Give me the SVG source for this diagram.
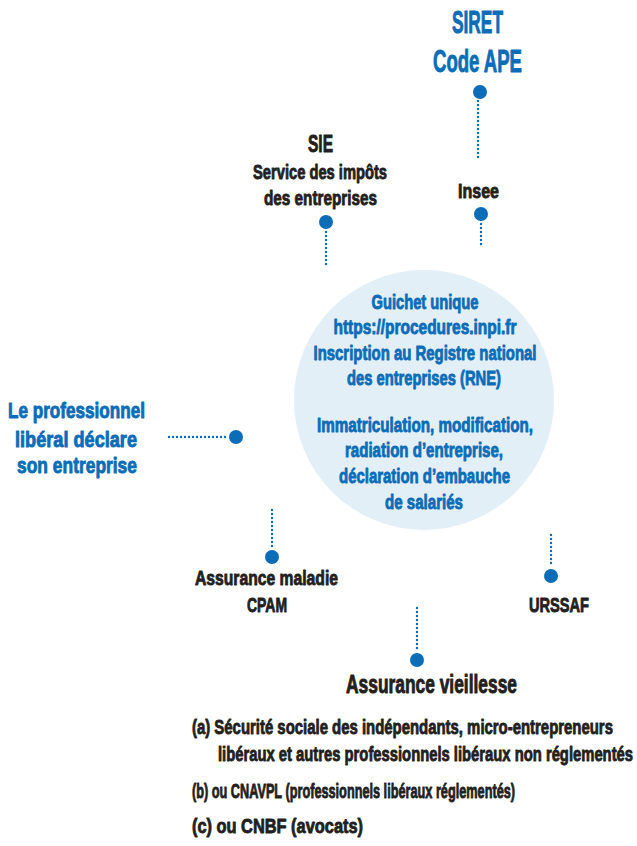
<svg xmlns="http://www.w3.org/2000/svg" width="637" height="846" viewBox="0 0 637 846">
<style>
text{font-family:"Liberation Sans",Arial,sans-serif;font-weight:bold;text-anchor:middle;stroke-width:0.9;stroke-linejoin:round}
.b{fill:#0b6db7;stroke:#0b6db7}
.k{fill:#231f20;stroke:#231f20}
.s{text-anchor:start}
.dot{fill:#0b6db7}
.dl{stroke:#0b6db7;stroke-width:2.4;stroke-linecap:round;stroke-dasharray:0 4;fill:none}
</style>
<rect width="637" height="846" fill="#ffffff"/>
<g id="center">
<circle cx="424" cy="400" r="130" fill="#e3eff7"/>
<text class="b" font-size="21" transform="translate(425,309) scale(0.62,1)" textLength="172.6" lengthAdjust="spacingAndGlyphs">Guichet unique</text>
<text class="b" font-size="21" transform="translate(425,334) scale(0.62,1)" textLength="295.2" lengthAdjust="spacingAndGlyphs">https://procedures.inpi.fr</text>
<text class="b" font-size="21" transform="translate(425,360) scale(0.62,1)" textLength="359.7" lengthAdjust="spacingAndGlyphs">Inscription au Registre national</text>
<text class="b" font-size="21" transform="translate(424,385) scale(0.62,1)" textLength="248.4" lengthAdjust="spacingAndGlyphs">des entreprises (RNE)</text>
<text class="b" font-size="21" transform="translate(425,432) scale(0.62,1)" textLength="348.4" lengthAdjust="spacingAndGlyphs">Immatriculation, modification,</text>
<text class="b" font-size="21" transform="translate(424,457) scale(0.62,1)" textLength="254.8" lengthAdjust="spacingAndGlyphs">radiation d’entreprise,</text>
<text class="b" font-size="21" transform="translate(424.5,483) scale(0.62,1)" textLength="275.8" lengthAdjust="spacingAndGlyphs">déclaration d’embauche</text>
<text class="b" font-size="21" transform="translate(424,509) scale(0.62,1)" textLength="125.8" lengthAdjust="spacingAndGlyphs">de salariés</text>
</g>
<g id="connectors">
<line class="dl" x1="478" y1="101" x2="478" y2="161"/>
<line class="dl" x1="481" y1="224" x2="481" y2="246"/>
<line class="dl" x1="326" y1="232" x2="326" y2="268"/>
<line class="dl" x1="169" y1="437" x2="227" y2="437"/>
<line class="dl" x1="272" y1="510" x2="272" y2="548"/>
<line class="dl" x1="551" y1="535" x2="551" y2="566"/>
<line class="dl" x1="417" y1="608" x2="417" y2="651"/>
</g>
<g id="siret">
<text class="b" font-size="31" transform="translate(477.5,33) scale(0.62,1)" textLength="82.3" lengthAdjust="spacingAndGlyphs">SIRET</text>
<text class="b" font-size="31" transform="translate(477.5,72) scale(0.62,1)" textLength="143.5" lengthAdjust="spacingAndGlyphs">Code APE</text>
<circle class="dot" cx="480" cy="92" r="7"/>
</g>
<g id="insee">
<text class="k" font-size="21" transform="translate(478.5,198) scale(0.62,1)" textLength="66.1" lengthAdjust="spacingAndGlyphs">Insee</text>
<circle class="dot" cx="481" cy="214" r="7"/>
</g>
<g id="sie">
<text class="k" font-size="24" transform="translate(320.5,152) scale(0.62,1)" textLength="40.3" lengthAdjust="spacingAndGlyphs">SIE</text>
<text class="k" font-size="21" transform="translate(320,179) scale(0.62,1)" textLength="216.1" lengthAdjust="spacingAndGlyphs">Service des impôts</text>
<text class="k" font-size="21" transform="translate(320.5,205) scale(0.62,1)" textLength="182.3" lengthAdjust="spacingAndGlyphs">des entreprises</text>
<circle class="dot" cx="326" cy="222" r="7"/>
</g>
<g id="professionnel">
<text class="b" font-size="22" transform="translate(76.5,418) scale(0.62,1)" textLength="221" lengthAdjust="spacingAndGlyphs">Le professionnel</text>
<text class="b" font-size="22" transform="translate(76,447) scale(0.62,1)" textLength="196.8" lengthAdjust="spacingAndGlyphs">libéral déclare</text>
<text class="b" font-size="22" transform="translate(77,473) scale(0.62,1)" textLength="193.5" lengthAdjust="spacingAndGlyphs">son entreprise</text>
<circle class="dot" cx="236" cy="437" r="7"/>
</g>
<g id="cpam">
<circle class="dot" cx="272" cy="557" r="7"/>
<text class="k" font-size="21" transform="translate(266.5,585) scale(0.62,1)" textLength="230.6" lengthAdjust="spacingAndGlyphs">Assurance maladie</text>
<text class="k" font-size="21" transform="translate(267,612) scale(0.62,1)" textLength="64.5" lengthAdjust="spacingAndGlyphs">CPAM</text>
</g>
<g id="urssaf">
<circle class="dot" cx="551" cy="576" r="7"/>
<text class="k" font-size="21" transform="translate(559,612) scale(0.62,1)" textLength="96.8" lengthAdjust="spacingAndGlyphs">URSSAF</text>
</g>
<g id="vieillesse">
<circle class="dot" cx="417" cy="660" r="7"/>
<text class="k" font-size="25" transform="translate(431.5,693) scale(0.62,1)" textLength="275.8" lengthAdjust="spacingAndGlyphs">Assurance vieillesse</text>
</g>
<g id="notes">
<text class="k s" font-size="21" transform="translate(192,734) scale(0.62,1)" textLength="679" lengthAdjust="spacingAndGlyphs">(a) Sécurité sociale des indépendants, micro-entrepreneurs</text>
<text class="k s" font-size="21" transform="translate(218,761) scale(0.62,1)" textLength="669.4" lengthAdjust="spacingAndGlyphs">libéraux et autres professionnels libéraux non réglementés</text>
<text class="k s" font-size="21" transform="translate(192,798) scale(0.62,1)" textLength="521" lengthAdjust="spacingAndGlyphs">(b) ou CNAVPL (professionnels libéraux réglementés)</text>
<text class="k s" font-size="21" transform="translate(192,833) scale(0.62,1)" textLength="275.8" lengthAdjust="spacingAndGlyphs">(c) ou CNBF (avocats)</text>
</g>
</svg>
